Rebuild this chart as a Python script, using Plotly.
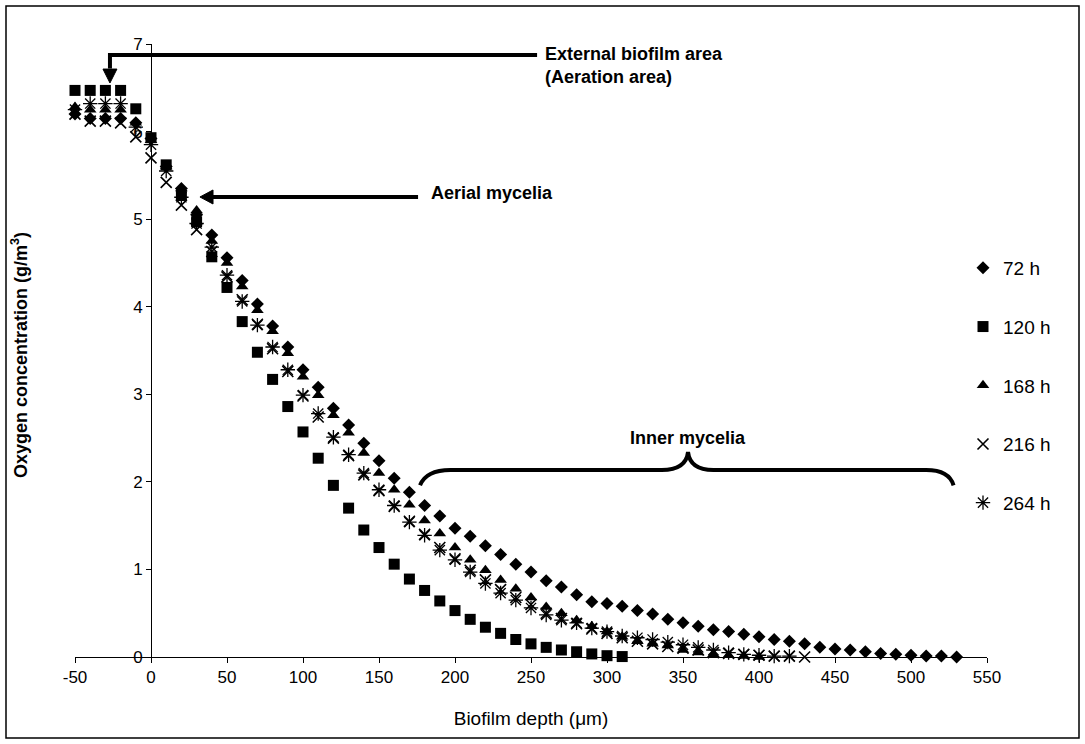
import plotly.graph_objects as go

depth = [-50, -40, -30, -20, -10, 0, 10, 20, 30, 40, 50, 60, 70, 80, 90, 100, 110, 120,
         130, 140, 150, 160, 170, 180, 190, 200, 210, 220, 230, 240, 250, 260, 270, 280,
         290, 300, 310, 320, 330, 340, 350, 360, 370, 380, 390, 400, 410, 420, 430, 440,
         450, 460, 470, 480, 490, 500, 510, 520, 530]

o2_72h = [6.2, 6.15, 6.15, 6.15, 6.1, 5.92, 5.6, 5.35, 5.05, 4.82, 4.56, 4.3, 4.03, 3.78,
          3.54, 3.28, 3.08, 2.84, 2.65, 2.44, 2.24, 2.04, 1.88, 1.73, 1.61, 1.47, 1.38,
          1.27, 1.17, 1.06, 0.97, 0.87, 0.8, 0.71, 0.63, 0.61, 0.58, 0.53, 0.49, 0.43,
          0.39, 0.35, 0.31, 0.29, 0.26, 0.23, 0.2, 0.18, 0.15, 0.11, 0.09, 0.08, 0.06,
          0.04, 0.03, 0.02, 0.01, 0.01, 0.0]
o2_120h = [6.47, 6.47, 6.47, 6.47, 6.26, 5.93, 5.62, 5.27, 4.97, 4.57, 4.22, 3.83, 3.48,
           3.17, 2.86, 2.57, 2.27, 1.96, 1.70, 1.45, 1.25, 1.06, 0.89, 0.76, 0.64, 0.53,
           0.43, 0.34, 0.27, 0.2, 0.15, 0.11, 0.08, 0.06, 0.035, 0.015, 0.005]
o2_168h = [6.28, 6.25, 6.25, 6.25, 6.1, 5.9, 5.6, 5.35, 5.1, 4.75, 4.5, 4.23, 3.96, 3.72,
           3.47, 3.2, 2.99, 2.76, 2.56, 2.33, 2.1, 1.91, 1.74, 1.56, 1.41, 1.25, 1.11,
           0.99, 0.88, 0.78, 0.68, 0.57, 0.5, 0.42, 0.35, 0.29, 0.23, 0.18, 0.15, 0.13,
           0.08, 0.05, 0.03, 0.02, 0.01, 0.0]
o2_216h = [6.2, 6.12, 6.12, 6.1, 5.94, 5.7, 5.42, 5.16, 4.88, 4.63, 4.34, 4.08, 3.8, 3.52,
           3.26, 2.98, 2.74, 2.5, 2.3, 2.08, 1.9, 1.72, 1.55, 1.4, 1.25, 1.12, 0.99, 0.88,
           0.77, 0.68, 0.6, 0.5, 0.44, 0.38, 0.32, 0.27, 0.22, 0.18, 0.15, 0.12, 0.1,
           0.08, 0.05, 0.04, 0.03, 0.02, 0.01, 0.01, 0.0]
o2_264h = [6.25, 6.32, 6.32, 6.32, 6.05, 5.85, 5.55, 5.25, 4.95, 4.68, 4.36, 4.06, 3.79,
           3.54, 3.28, 2.99, 2.78, 2.51, 2.31, 2.1, 1.91, 1.73, 1.54, 1.39, 1.22, 1.11,
           0.97, 0.84, 0.73, 0.65, 0.56, 0.48, 0.42, 0.39, 0.33, 0.29, 0.24, 0.22, 0.2,
           0.17, 0.14, 0.11, 0.08, 0.05, 0.03, 0.02, 0.01, 0.01]

series_names = ["72 h", "120 h", "168 h", "216 h", "264 h"]
series_values = [o2_72h, o2_120h, o2_168h, o2_216h, o2_264h]
x_ticks = [-50, 0, 50, 100, 150, 200, 250, 300, 350, 400, 450, 500, 550]
x_tick_labels = ["-50", "0", "50", "100", "150", "200", "250", "300", "350", "400",
                 "450", "500", "550"]
y_ticks = [0, 1, 2, 3, 4, 5, 6, 7]

FONT = "Liberation Sans, Arial, Helvetica, sans-serif"
markers = [
    dict(symbol="diamond", size=10, color="black"),
    dict(symbol="square", size=11, color="black"),
    dict(symbol="triangle-up", size=11, color="black"),
    dict(symbol="x-thin-open", size=11, color="black", line=dict(color="black", width=1.6)),
    dict(symbol="asterisk-open", size=12, color="black", line=dict(color="black", width=1.3)),
]

fig = go.Figure()
for i, (name, vals) in enumerate(zip(series_names, series_values)):
    fig.add_trace(go.Scatter(
        x=depth[:len(vals)], y=vals, name=name, mode="markers",
        marker=markers[i], cliponaxis=False, legendgroup=name,
    ))

# plot area: x=-50 at px 75, x=550 at px 987; y=7 at px 44, y=0 at px 657
W, H = 1085, 744
L, R, T, B = 75, 98, 44, 87
pw, ph = W - L - R, H - T - B

def px(xp):
    return (xp - L) / pw

def py(yp):
    return (H - B - yp) / ph

fig.update_layout(
    width=W, height=H,
    margin=dict(l=L, r=R, t=T, b=B, autoexpand=False),
    paper_bgcolor="white", plot_bgcolor="white",
    font=dict(family=FONT, size=17, color="black"),
    showlegend=True,
    legend=dict(x=px(963), y=py(249), xanchor="left", yanchor="top",
                font=dict(size=19, family=FONT), tracegroupgap=31,
                traceorder="grouped", itemwidth=30, bgcolor="rgba(0,0,0,0)"),
    xaxis=dict(range=[-50, 550], tickvals=x_ticks, ticktext=x_tick_labels,
               showgrid=False, zeroline=False,
               showline=True, linecolor="black", linewidth=1, ticks="outside",
               ticklen=5, tickcolor="black", tickfont=dict(size=17), anchor="y",
               title=dict(text="Biofilm depth (μm)", font=dict(size=19), standoff=25)),
    yaxis=dict(range=[0, 7], tickvals=y_ticks, showgrid=False, zeroline=False,
               showline=True, linecolor="black", linewidth=1, ticks="outside",
               ticklen=5, tickcolor="black", tickfont=dict(size=17),
               anchor="free", position=50 / 600),
)

# outer border
fig.add_shape(type="rect", xref="paper", yref="paper",
              x0=px(6), x1=px(1079), y0=py(738), y1=py(6),
              line=dict(color="black", width=1.5), layer="below")

# y-axis title
fig.add_annotation(xref="paper", yref="paper", x=px(19), y=py(355), xanchor="center",
                   yanchor="middle",
                   text="<b>Oxygen concentration (g/m<sup>3</sup>)</b>", textangle=-90,
                   showarrow=False, font=dict(size=18, family=FONT))

# External biofilm area: elbow arrow
fig.add_shape(type="line", xref="x", yref="y", x0=-27, x1=254, y0=6.874, y1=6.874,
              line=dict(color="black", width=4))
fig.add_shape(type="line", xref="x", yref="y", x0=-27, x1=-27, y0=6.897, y1=6.72,
              line=dict(color="black", width=4))
fig.add_shape(type="path", xref="x", yref="y",
              path="M -31.6,6.714 L -22.4,6.714 L -27,6.555 Z",
              fillcolor="black", line=dict(color="black", width=1))
fig.add_annotation(xref="x", yref="y", x=258, y=6.75, xanchor="left", align="left",
                   text="<b>External biofilm area<br>(Aeration area)</b>",
                   showarrow=False, font=dict(size=18, family=FONT))

# Aerial mycelia arrow
fig.add_shape(type="line", xref="x", yref="y", x0=175.7, x1=40, y0=5.253, y1=5.253,
              line=dict(color="black", width=4))
fig.add_shape(type="path", xref="x", yref="y",
              path="M 40.8,5.333 L 40.8,5.173 L 32.2,5.253 Z",
              fillcolor="black", line=dict(color="black", width=1))
fig.add_annotation(xref="x", yref="y", x=183, y=5.3, xanchor="left",
                   text="<b>Aerial mycelia</b>", showarrow=False,
                   font=dict(size=18, family=FONT))

# Inner mycelia brace
brace = ("M 177,1.96 Q 181,2.135 197,2.135 L 336,2.135 Q 352,2.135 353.3,2.34 "
         "Q 354.6,2.135 370,2.135 L 510,2.135 Q 525,2.135 528,1.96")
fig.add_shape(type="path", xref="x", yref="y", path=brace,
              line=dict(color="black", width=4))
fig.add_annotation(xref="x", yref="y", x=353.3, y=2.5, text="<b>Inner mycelia</b>",
                   showarrow=False, font=dict(size=18, family=FONT))

fig.write_html("out.html")
